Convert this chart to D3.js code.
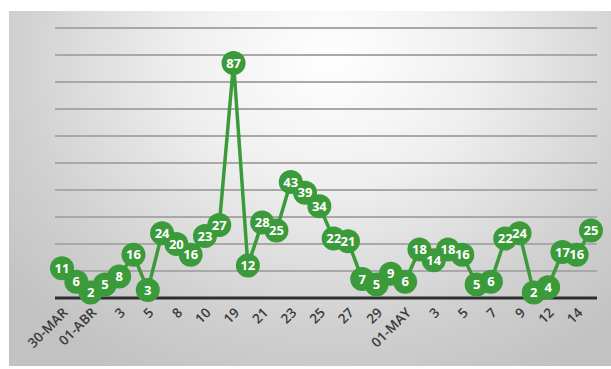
<!DOCTYPE html>
<html><head><meta charset="utf-8">
<script src="https://cdn.jsdelivr.net/npm/d3@7"></script>
<style>html,body{margin:0;padding:0;background:#fff;}svg{display:block;}</style>
</head><body>
<svg id="chart" width="611" height="369"></svg>
<script>
const values = [11,6,2,5,8,16,3,24,20,16,23,27,87,12,28,25,43,39,34,22,21,7,5,9,6,18,14,18,16,5,6,22,24,2,4,17,16,25];
const tickLabels = ["30-MAR","01-ABR","3","5","8","10","19","21","23","25","27","29","01-MAY","3","5","7","9","12","14"];
const yTicks = [0,10,20,30,40,50,60,70,80,90,100];

const svg = d3.select("#chart");
const defs = svg.append("defs");
const grad = defs.append("radialGradient").attr("id","bg")
  .attr("gradientUnits","userSpaceOnUse").attr("cx",330).attr("cy",60).attr("r",420)
  .attr("gradientTransform","translate(330,60) scale(1,0.85) translate(-330,-60)");
grad.append("stop").attr("offset","0%").attr("stop-color","#ffffff");
grad.append("stop").attr("offset","35%").attr("stop-color","#efefef");
grad.append("stop").attr("offset","75%").attr("stop-color","#d0d0d0");
grad.append("stop").attr("offset","100%").attr("stop-color","#c2c2c2");
svg.append("rect").attr("x",9).attr("y",11).attr("width",602).attr("height",355).attr("fill","url(#bg)");

const x = d3.scalePoint().domain(d3.range(values.length)).range([62,591]);
const y = d3.scaleLinear().domain([0,100]).range([298,28]);

// gridlines
svg.append("g").selectAll("line").data(yTicks.filter(d=>d>0)).join("line")
  .attr("x1",55).attr("x2",597).attr("y1",d=>y(d)).attr("y2",d=>y(d))
  .attr("stroke","#a8a8a8").attr("stroke-width",2);
svg.append("line").attr("x1",55).attr("x2",597).attr("y1",y(0)).attr("y2",y(0))
  .attr("stroke","#2e2e2e").attr("stroke-width",3);

// x labels
const xAxis = d3.axisBottom(x)
  .tickValues(d3.range(0,values.length,2))
  .tickFormat((d,i)=>tickLabels[i]).tickSize(0).tickPadding(0);
const gx = svg.append("g").attr("transform",`translate(0,${y(0)+15})`).call(xAxis);
gx.select(".domain").remove();
gx.selectAll("text")
  .attr("transform","rotate(-45)")
  .attr("text-anchor","end")
  .attr("dx","0.3em").attr("dy","0.35em")
  .attr("fill","#3a3a3a")
  .style("font-family","'Open Sans', sans-serif")
  .style("font-size","13.5px")
  .style("font-weight","600");

const green = "#3b9a3a";
const line = d3.line().x((d,i)=>x(i)).y(d=>y(d));
svg.append("path").datum(values).attr("d",line).attr("fill","none")
  .attr("stroke",green).attr("stroke-width",3.5).attr("stroke-linejoin","round");

svg.append("g").selectAll("circle").data(values).join("circle")
  .attr("cx",(d,i)=>x(i)).attr("cy",d=>y(d)).attr("r",12).attr("fill",green);
svg.append("g").selectAll("text").data(values).join("text")
  .attr("x",(d,i)=>x(i)).attr("y",d=>y(d))
  .text(d=>d).attr("text-anchor","middle").attr("dy","0.36em")
  .attr("fill","#ffffff").style("font-family","'Open Sans', sans-serif")
  .style("font-size","13px").style("font-weight","700");
</script>
</body></html>
